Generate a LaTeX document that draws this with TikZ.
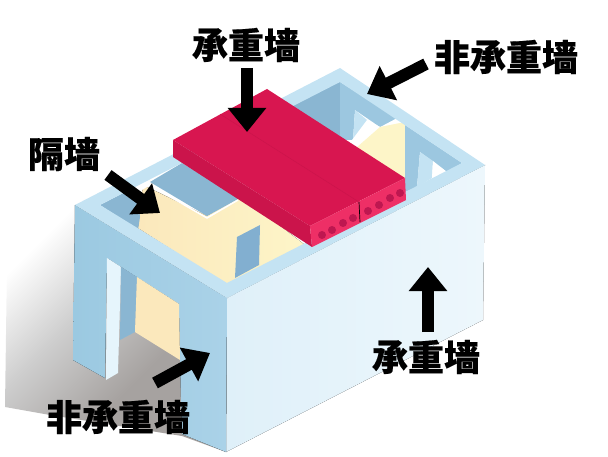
\documentclass[tikz,border=0pt]{standalone}
\usepackage{fontspec}
\usepackage{xcolor}
\usepackage{tikz}
\usetikzlibrary{arrows.meta,fadings}
\newfontfamily\cjk{Noto Sans CJK SC}[BoldFeatures={FakeBold=0.5}]
\definecolor{rimblue}{HTML}{C4E3F3}
\definecolor{leftblue}{HTML}{AAD2E8}
\definecolor{leftdark}{HTML}{9BC9E1}
\definecolor{rightblue}{HTML}{DFF0F9}
\definecolor{rightpale}{HTML}{EDF7FC}
\definecolor{midblue}{HTML}{9CC7E0}
\definecolor{darkblue}{HTML}{8AB6D2}
\definecolor{slotblue}{HTML}{82AFD0}
\definecolor{palewhite}{HTML}{E6F5FC}
\definecolor{warmyellow}{HTML}{FBE8BC}
\definecolor{softyellow}{HTML}{FDF5C8}
\definecolor{slabtop}{HTML}{D81650}
\definecolor{slabside}{HTML}{CB144B}
\definecolor{slabend}{HTML}{EE2F66}
\definecolor{slabhole}{HTML}{BE1750}
\definecolor{floorgray}{HTML}{A6A2A0}
\definecolor{shadowgray}{HTML}{CDCDCD}
\pgfdeclareverticalshading{groundshade}{100bp}{color(0bp)=(floorgray); color(38bp)=(floorgray); color(56bp)=(shadowgray); color(73bp)=(white); color(100bp)=(white)}
\begin{document}
\begin{tikzpicture}
  [x=1pt,y=-1pt,
   walltext/.style={font=\cjk\bfseries\fontsize{36}{36}\selectfont,text=black,inner sep=0pt},
   loadarrow/.style={line width=12pt,black,-{Triangle[width=37pt,length=24pt]}},
   slabhole/.style={circle,fill=slabhole,minimum size=8pt,inner sep=0pt}]
  \useasboundingbox (0,0) rectangle (608,457);
  % ground shadow
  \shade[shading=groundshade,shading angle=45] (5,407) -- (50,415) -- (182,436) -- (226,452) -- (226,300) -- (75,190) -- (8,190) -- cycle;
  % outer faces
  \fill[left color=rightblue,right color=rightpale] (227,298) -- (485,165) -- (483,320) -- (226,452) -- cycle;
  \fill[left color=leftdark,right color=leftblue] (75,205) -- (227,298) -- (226,452) -- (182,434) -- (180,360) -- (179,304) -- (107,258) -- (105,378) -- (73,360) -- cycle;
  \fill[palewhite] (107,258) -- (121,267) -- (118,373) -- (106,380) -- cycle;
  \fill[darkblue] (121,267) -- (137,277) -- (135,332) -- (120,340) -- cycle;
  \fill[warmyellow] (137,277) -- (179,304) -- (180,360) -- (135,332) -- cycle;
  % inside, left part
  \fill[left color=warmyellow,right color=softyellow] (138,228) -- (143,185) -- (207,216) -- (240,195) -- (305,245) -- (227,285) -- cycle;
  \fill[darkblue] (100,205) -- (135,187) -- (140,217) -- (138,230) -- cycle;
  \fill[darkblue] (150,182) -- (182,163) -- (240,198) -- (207,216) -- cycle;
  \fill[white] (135,187) -- (146,180) -- (152,184) -- (142,190) -- cycle;
  \draw[white,line width=1.5pt] (148,184) -- (207,218) -- (238,200);
  \fill[slotblue] (237,237) -- (260,225) -- (259,265) -- (235,278) -- cycle;
  % inside, right part
  \fill[darkblue] (285,100) -- (340,82) -- (340,140) -- (300,125) -- cycle;
  \fill[midblue] (340,82) -- (397,118) -- (380,127) -- (355,110) -- (353,140) -- (340,140) -- cycle;
  \fill[rimblue] (355,110) -- (367,120) -- (365,137) -- (353,140) -- cycle;
  \fill[white] (367,120) -- (380,127) -- (358,147) -- (352,140) -- cycle;
  \fill[softyellow] (380,127) -- (405,122) -- (405,180) -- (356,148) -- cycle;
  \fill[midblue] (405,125) -- (462,163) -- (447,172) -- (420,152) -- (417,187) -- (405,192) -- cycle;
  \fill[rimblue] (420,152) -- (433,161) -- (432,178) -- (417,187) -- cycle;
  \fill[white] (433,161) -- (447,172) -- (432,178) -- cycle;
  % top of the walls
  \fill[rimblue,even odd rule] (75,205) -- (340,68) -- (485,165) -- (227,298) -- cycle
    (100,205) -- (340,82) -- (462,163) -- (227,283) -- cycle;
  % slab
  \fill[slabtop] (173,140) -- (267,89) -- (405,178) -- (310,226) -- cycle;
  \fill[slabside] (173,140) -- (310,226) -- (312,247) -- (173,157) -- cycle;
  \fill[slabend] (310,226) -- (405,178) -- (406,200) -- (312,247) -- cycle;
  \draw[slabside,line width=.5pt] (220,114) -- (359,202);
  \draw[slabhole,line width=.7pt] (359,202) -- (360,222);
  \foreach \x/\y in {322/235,332/230,343/223,353/218,368/211,379/205,390/198,400/193}
    \node[slabhole] (h\x) at (\x,\y) {};
  % labels
  \node[walltext] (topwall) at (246,45) {承重墙};
  \node[walltext] (backwall) at (506,57) {非承重墙};
  \node[walltext] (partition) at (64,154) {隔墙};
  \node[walltext] (frontwall) at (118,417) {非承重墙};
  \node[walltext] (sidewall) at (426,357) {承重墙};
  % arrows
  \coordinate (t1) at (247,68);   \coordinate (a1) at (247,132);
  \coordinate (t2) at (426,64);   \coordinate (a2) at (367,94);
  \coordinate (t3) at (108,175);  \coordinate (a3) at (160,213);
  \coordinate (t4) at (155,383);  \coordinate (a4) at (210,353);
  \coordinate (t5) at (428,332);  \coordinate (a5) at (428,267);
  \foreach \from/\to in {t1/a1,t2/a2,t3/a3,t4/a4,t5/a5}
    \draw[loadarrow] (\from) -- (\to);
\end{tikzpicture}
\end{document}
